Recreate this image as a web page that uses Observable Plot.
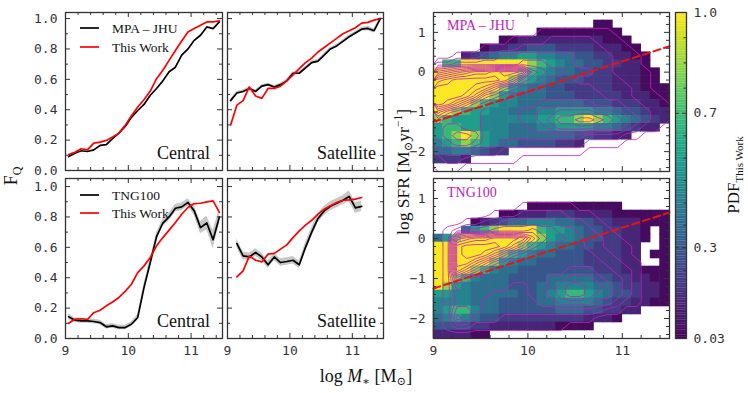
<!DOCTYPE html>
<html>
<head>
<meta charset="utf-8">
<script src="https://cdn.jsdelivr.net/npm/d3@7"></script>
<script src="https://cdn.jsdelivr.net/npm/@observablehq/plot@0.6"></script>
<style>
html,body{margin:0;padding:0;background:#fff;}
#fig{position:relative;width:748px;height:393px;overflow:hidden;background:#fff;}
.panel{position:absolute;}
.panel svg{overflow:visible;display:block;}
#ann{position:absolute;left:0;top:0;pointer-events:none;z-index:10;}
</style>
</head>
<body>
<div id="fig"><svg id="ann" width="748" height="393"></svg></div>
<script>
// ---------------- DATA ----------------
const massCenters = [9.05,9.15,9.25,9.35,9.45,9.55,9.65,9.75,9.85,9.95,10.05,10.15,10.25,10.35,10.45,10.55,10.65,10.75,10.85,10.95,11.05,11.15,11.25,11.35,11.45];
const massCentersSatTNG = [9.15,9.25,9.35,9.45,9.55,9.65,9.75,9.85,9.95,10.05,10.15,10.25,10.35,10.45,10.55,10.65,10.75,10.85,10.95,11.05,11.15];

// top row: MPA-JHU vs This Work
const fqCentralMPA  = [0.092,0.114,0.13,0.125,0.136,0.165,0.17,0.21,0.246,0.29,0.35,0.395,0.435,0.495,0.54,0.59,0.65,0.68,0.76,0.80,0.857,0.89,0.945,0.934,0.978];
const fqCentralThisTop = [0.105,0.12,0.143,0.136,0.18,0.187,0.198,0.22,0.246,0.297,0.36,0.418,0.466,0.523,0.604,0.66,0.725,0.79,0.853,0.912,0.934,0.956,0.978,0.978,0.985];
const fqSatMPA = [0.46,0.51,0.52,0.54,0.52,0.555,0.565,0.55,0.565,0.59,0.64,0.64,0.675,0.71,0.72,0.76,0.80,0.82,0.85,0.88,0.905,0.93,0.935,0.92,1.0];
const fqSatMPAerr = [0.01,0.01,0.01,0.01,0.01,0.01,0.01,0.01,0.01,0.01,0.01,0.01,0.01,0.01,0.01,0.01,0.01,0.01,0.01,0.01,0.01,0.012,0.015,0.015,0.01];
const fqSatThisTop = [0.30,0.43,0.46,0.55,0.49,0.475,0.54,0.54,0.555,0.59,0.63,0.67,0.71,0.74,0.78,0.81,0.84,0.87,0.90,0.92,0.94,0.97,0.975,0.99,1.0];

// bottom row: TNG100 vs This Work
const fqCentralTNG = [0.143,0.12,0.116,0.116,0.112,0.105,0.077,0.083,0.072,0.072,0.094,0.138,0.335,0.50,0.67,0.76,0.80,0.857,0.866,0.895,0.84,0.73,0.76,0.65,0.80];
const fqCentralTNGerr = [0.02,0.015,0.015,0.015,0.015,0.015,0.015,0.015,0.015,0.015,0.015,0.02,0.025,0.025,0.025,0.025,0.025,0.025,0.025,0.025,0.03,0.04,0.045,0.06,0.05];
const fqCentralThisBot = [0.10,0.127,0.13,0.125,0.17,0.186,0.215,0.24,0.27,0.31,0.357,0.434,0.478,0.533,0.61,0.664,0.713,0.763,0.818,0.862,0.888,0.89,0.899,0.906,0.83];
const fqSatTNG = [0.625,0.544,0.537,0.566,0.537,0.485,0.537,0.50,0.507,0.515,0.485,0.60,0.70,0.79,0.84,0.87,0.89,0.91,0.935,0.86,0.87];
const fqSatTNGerr = [0.03,0.025,0.025,0.025,0.025,0.025,0.025,0.025,0.025,0.025,0.025,0.03,0.03,0.03,0.03,0.03,0.03,0.03,0.035,0.035,0.035];
const fqSatThisBot = [0.406,0.445,0.544,0.515,0.504,0.555,0.56,0.588,0.616,0.664,0.708,0.746,0.778,0.818,0.851,0.873,0.895,0.91,0.912,0.917,0.928];

// heat-map bins
const massEdges = [9.0,9.1,9.2,9.3,9.4,9.5,9.6,9.7,9.8,9.9,10.0,10.1,10.2,10.3,10.4,10.5,10.6,10.7,10.8,10.9,11.0,11.1,11.2,11.3,11.4,11.5];
const sfrEdges = [1.5,1.3,1.1,0.9,0.7,0.5,0.3,0.1,-0.1,-0.3,-0.5,-0.7,-0.9,-1.1,-1.3,-1.5,-1.7,-1.9,-2.1,-2.3,-2.5];
// PDF level codes
const pdfLevel = {"1":0.06,"2":0.13,"3":0.2,"4":0.29,"5":0.38,"6":0.47,"7":0.57,"8":0.68,"9":0.83,"Y":1.0};

const pdfThisWorkMPA = [
".........................",
".................11......",
"...........111111111.....",
".......11222222222111....",
".....12233444333322211...",
"...23456677665544332211..",
".88YYYYYYY9876554433221..",
"YYYYYYYYY987655443322211.",
"YYYYYYYY9876544433322211.",
"YYYYYYY976554433333222111",
"YYYYYY9765554443333322211",
"YYYY987665555555444333221",
"YY98776655566777766544322",
"9877766666677889Y98765432",
"788776665556677776654322.",
"789Y97665555555443322....",
"6789876554444332.........",
"55665433.................",
"3332.....................",
"........................."];

const pdfThisWorkTNG = [
".........................",
".........................",
".........................",
"..........1111111111.....",
".......112223332222111111",
"....123455666554433222111",
"...5789YYYY877654433221.1",
"579YYYYYYYY976654433221.1",
"YYYYYYYYY9876554433322..1",
"YYYYYYY987655444333322.11",
"YYYYYY9765544444333322..1",
"YYYY986554444444433322111",
"YY98655544445555544332211",
"Y976555544455666655433221",
"7766555554456788765443221",
"6666555444455666654332211",
"6788655444444555443322...",
"56765443333333332221.....",
"44443322222221111........",
"222211..................."];

// contour level counts of the comparison samples (hex digits)
const contourMPA = [
"0000000000000000000000000",
"0000000000000000000000000",
"0000000000011111111000000",
"0000000011112222211100000",
"0000011112222222221110000",
"0011122333333332222111000",
"2233333334443332222111000",
"6789aabccb654433322111100",
"abcccccb96543332222211100",
"ccccba8654433333322221100",
"cccb965433333333332221110",
"cb97543333344444433322111",
"8654433334455666655432211",
"5444433334456778876543211",
"4554433333445666655432110",
"4566533333333333222211000",
"3455433222222222111100000",
"2333222111111111000000000",
"1221111110000000000000000",
"1110000000000000000000000"];

const contourTNG = [
"0000000000000000000000000",
"0000000000000000000000000",
"0000000000000000000000000",
"0000000001111110000000000",
"0000001112222211100000000",
"0001122333333222110000000",
"0123334444544332211000000",
"0189aabbba754433221100000",
"01bccccb97543333221110000",
"01bccb9754333333322110000",
"01bb975433333333332211000",
"01a8643333333344433221000",
"0164333333334455543321000",
"0143333322334566554321000",
"0133332222334566544321000",
"0133322222233444433211000",
"0144322222222222221100000",
"0154222111111111100000000",
"0122111111111100000000000",
"0000000000000000000000000"];
const contourThresholds = [0.5,1.5,2.5,3.5,4.5,5.5,6.5,7.5,8.5,9.5,10.5,11.5];

// dividing line (log SFR vs log M*)
const divLine = [{m: 9.0, s: -1.25}, {m: 11.5, s: 0.65}];

// ticks
const massMajor = [9, 10, 11];
const massMinor = [9.2,9.4,9.6,9.8,10.2,10.4,10.6,10.8,11.2,11.4];
const fqMajor = [0, 0.2, 0.4, 0.6, 0.8, 1.0];
const fqMinor = [0.1, 0.3, 0.5, 0.7, 0.9];
const sfrMajor = [-2, -1, 0, 1];
const sfrMinor = [-2.4,-2.2,-1.8,-1.6,-1.4,-1.2,-0.8,-0.6,-0.4,-0.2,0.2,0.4,0.6,0.8,1.2,1.4];
const cbTicks = [0.03, 0.3, 0.7, 1.0];
const cbTickLabels = ["0.03", "0.3", "0.7", "1.0"];
const cbMinor = [0.0975,0.165,0.2325,0.367,0.433,0.5,0.567,0.633,0.775,0.85,0.925];

// ---------------- DRAWING ----------------
const MONO = "DejaVu Sans Mono, monospace";
const SERIF = "Liberation Serif, DejaVu Serif, serif";
const INK = "#333";
const MAG = "#c020c0";
const fig = document.getElementById("fig");

const box = {
  tl: {x: 65, y: 12, w: 157, h: 158},
  tr: {x: 227, y: 12, w: 156, h: 158},
  bl: {x: 65, y: 178, w: 157, h: 160},
  br: {x: 227, y: 178, w: 156, h: 160},
  h1: {x: 433, y: 12, w: 236, h: 159},
  h2: {x: 433, y: 178, w: 236, h: 160},
  cb: {x: 675, y: 12, w: 11, h: 326}
};

function place(node, b) {
  const d = document.createElement("div");
  d.className = "panel";
  d.style.left = b.x + "px";
  d.style.top = b.y + "px";
  d.appendChild(node);
  fig.insertBefore(d, document.getElementById("ann"));
}

function tickMarks(xMaj, xMin, yMaj, yMin, w, h) {
  const M = 5, m = 3;
  const s = {stroke: INK, strokeWidth: 1};
  return [
    Plot.ruleX(xMaj, {x: d => d, insetTop: h - M, ...s}),
    Plot.ruleX(xMaj, {x: d => d, insetBottom: h - M, ...s}),
    Plot.ruleX(xMin, {x: d => d, insetTop: h - m, ...s}),
    Plot.ruleX(xMin, {x: d => d, insetBottom: h - m, ...s}),
    Plot.ruleY(yMaj, {y: d => d, insetRight: w - M, ...s}),
    Plot.ruleY(yMaj, {y: d => d, insetLeft: w - M, ...s}),
    Plot.ruleY(yMin, {y: d => d, insetRight: w - m, ...s}),
    Plot.ruleY(yMin, {y: d => d, insetLeft: w - m, ...s})
  ];
}

function series(xs, ys, err) {
  return xs.map((m, i) => ({m, v: ys[i], lo: err ? ys[i] - err[i] : ys[i], hi: err ? ys[i] + err[i] : ys[i]}));
}

function linePanel(b, ydom, showX, showY, black, blackErr, red, xsBlack, xsRed) {
  const bd = series(xsBlack, black, blackErr);
  const rd = series(xsRed, red);
  const marks = [];
  if (blackErr) marks.push(Plot.areaY(bd, {x: "m", y1: "lo", y2: "hi", fill: "#999", fillOpacity: 0.55}));
  marks.push(Plot.line(bd, {x: "m", y: "v", stroke: "#000", strokeWidth: 1.7}));
  marks.push(Plot.line(rd, {x: "m", y: "v", stroke: "#ff0000", strokeWidth: 1.7}));
  marks.push(...tickMarks(massMajor, massMinor, fqMajor, fqMinor, b.w, b.h));
  marks.push(Plot.frame({stroke: INK, strokeWidth: 1.3}));
  if (showX) marks.push(Plot.axisX({ticks: massMajor, tickSize: 0, tickPadding: 7, tickFormat: d => String(d), fontFamily: MONO, fontSize: 13, color: INK, label: null}));
  if (showY) marks.push(Plot.axisY({ticks: fqMajor, tickSize: 0, tickPadding: 8, tickFormat: d3.format(".1f"), fontFamily: MONO, fontSize: 13, color: INK, label: null}));
  const p = Plot.plot({
    width: b.w, height: b.h, margin: 0,
    x: Object.assign({domain: [9, 11.5]}, showX ? {} : {axis: null}),
    y: Object.assign({domain: ydom}, showY ? {} : {axis: null}),
    style: {background: "transparent", overflow: "visible"},
    marks
  });
  place(p, b);
}

linePanel(box.tl, [0, 1.04], false, true, fqCentralMPA, null, fqCentralThisTop, massCenters, massCenters);
linePanel(box.tr, [0, 1.04], false, false, fqSatMPA, fqSatMPAerr, fqSatThisTop, massCenters, massCenters);
linePanel(box.bl, [0, 1.053], true, true, fqCentralTNG, fqCentralTNGerr, fqCentralThisBot, massCenters, massCenters);
linePanel(box.br, [0, 1.053], true, false, fqSatTNG, fqSatTNGerr, fqSatThisBot, massCentersSatTNG, massCentersSatTNG);

const colorOpts = {type: "linear", scheme: "viridis", domain: [0.03, 1.0], clamp: true};

function heatPanel(b, grid, levels, showX) {
  const cells = [];
  grid.forEach((row, r) => {
    for (let c = 0; c < 25; c++) {
      const ch = row[c];
      if (ch && ch !== ".") cells.push({x1: massEdges[c], x2: massEdges[c + 1], y1: sfrEdges[r + 1], y2: sfrEdges[r], v: pdfLevel[ch]});
    }
  });
  const lev = levels.flatMap(row => row.padEnd(25, "0").slice(0, 25).split("").map(ch => parseInt(ch, 16)));
  const marks = [
    Plot.rect(cells, {x1: "x1", x2: "x2", y1: "y1", y2: "y2", fill: "v", inset: -0.3}),
    Plot.contour(lev, {value: d => d, width: 25, height: 20, x1: 9, x2: 11.5, y1: 1.5, y2: -2.5, thresholds: contourThresholds, stroke: MAG, fill: "none", strokeWidth: 0.8}),
    Plot.line(divLine, {x: "m", y: "s", stroke: "#ee1111", strokeWidth: 2, strokeDasharray: "7,4"}),
    ...tickMarks(massMajor, massMinor, sfrMajor, sfrMinor, b.w, b.h),
    Plot.frame({stroke: INK, strokeWidth: 1.3}),
    Plot.axisY({ticks: sfrMajor, tickSize: 0, tickPadding: 8, tickFormat: d => d < 0 ? "\u2212" + (-d) : String(d), fontFamily: MONO, fontSize: 13, color: INK, label: null})
  ];
  if (showX) marks.push(Plot.axisX({ticks: massMajor, tickSize: 0, tickPadding: 7, tickFormat: d => String(d), fontFamily: MONO, fontSize: 13, color: INK, label: null}));
  const p = Plot.plot({
    width: b.w, height: b.h, margin: 0,
    x: Object.assign({domain: [9, 11.5]}, showX ? {} : {axis: null}),
    y: {domain: [-2.5, 1.5]},
    color: colorOpts,
    style: {background: "transparent", overflow: "visible"},
    marks
  });
  place(p, b);
}

heatPanel(box.h1, pdfThisWorkMPA, contourMPA, false);
heatPanel(box.h2, pdfThisWorkTNG, contourTNG, true);

// colour bar
(function () {
  const b = box.cb;
  const steps = d3.range(0.03, 1.0, 0.005);
  const p = Plot.plot({
    width: b.w, height: b.h, margin: 0,
    x: {domain: [0, 1], axis: null},
    y: {domain: [0.03, 1.0]},
    color: colorOpts,
    style: {background: "transparent", overflow: "visible"},
    marks: [
      Plot.rect(steps, {x1: 0, x2: 1, y1: d => d, y2: d => Math.min(1, d + 0.0055), fill: d => d}),
      Plot.ruleY(cbTicks, {y: d => d, insetLeft: b.w - 4, stroke: INK}),
      Plot.ruleY(cbTicks, {y: d => d, insetRight: b.w - 4, stroke: INK}),
      Plot.ruleY(cbMinor, {y: d => d, insetLeft: b.w - 2.5, stroke: INK}),
      Plot.frame({stroke: INK, strokeWidth: 1.3}),
      Plot.axisY({anchor: "right", ticks: cbTicks, tickSize: 0, tickPadding: 7, tickFormat: d => cbTickLabels[cbTicks.indexOf(d)], fontFamily: MONO, fontSize: 13, color: INK, label: null})
    ]
  });
  place(p, b);
})();

// annotations
document.getElementById("ann").innerHTML = `
<g font-family="${SERIF}" fill="#111">
  <line x1="80" x2="99" y1="28" y2="28" stroke="#000" stroke-width="1.7"/>
  <line x1="80" x2="99" y1="47" y2="47" stroke="#ff0000" stroke-width="1.7"/>
  <text x="112" y="32.5" font-size="13.5">MPA – JHU</text>
  <text x="112" y="51.5" font-size="13.5">This Work</text>
  <line x1="80" x2="99" y1="195" y2="195" stroke="#000" stroke-width="1.7"/>
  <line x1="80" x2="99" y1="213" y2="213" stroke="#ff0000" stroke-width="1.7"/>
  <text x="112" y="199.5" font-size="13.5">TNG100</text>
  <text x="112" y="217.5" font-size="13.5">This Work</text>
  <text x="210" y="159" font-size="18" text-anchor="end">Central</text>
  <text x="376" y="159" font-size="18" text-anchor="end">Satellite</text>
  <text x="210" y="327" font-size="18" text-anchor="end">Central</text>
  <text x="376" y="327" font-size="18" text-anchor="end">Satellite</text>
  <text x="447" y="30" font-size="14" fill="${MAG}">MPA – JHU</text>
  <text x="447" y="197" font-size="14" fill="${MAG}">TNG100</text>
  <text transform="translate(17,176) rotate(-90)" text-anchor="middle" font-size="18">F<tspan font-size="12" dy="4">Q</tspan></text>
  <text x="366" y="382" text-anchor="middle" font-size="18">log <tspan font-style="italic">M</tspan><tspan font-size="11.5" dy="3">∗</tspan><tspan dy="-3"> [M</tspan><tspan font-size="11.5" dy="3">⊙</tspan><tspan dy="-3">]</tspan></text>
  <text transform="translate(409,172) rotate(-90)" text-anchor="middle" font-size="17.5">log SFR [M<tspan font-size="11.5" dy="3">⊙</tspan><tspan dy="-3">yr</tspan><tspan font-size="11.5" dy="-7">−1</tspan><tspan dy="7">]</tspan></text>
  <text transform="translate(739,175) rotate(-90)" text-anchor="middle" font-size="17">PDF<tspan font-size="11" dy="4">This Work</tspan></text>
</g>`;
</script>
</body>
</html>
